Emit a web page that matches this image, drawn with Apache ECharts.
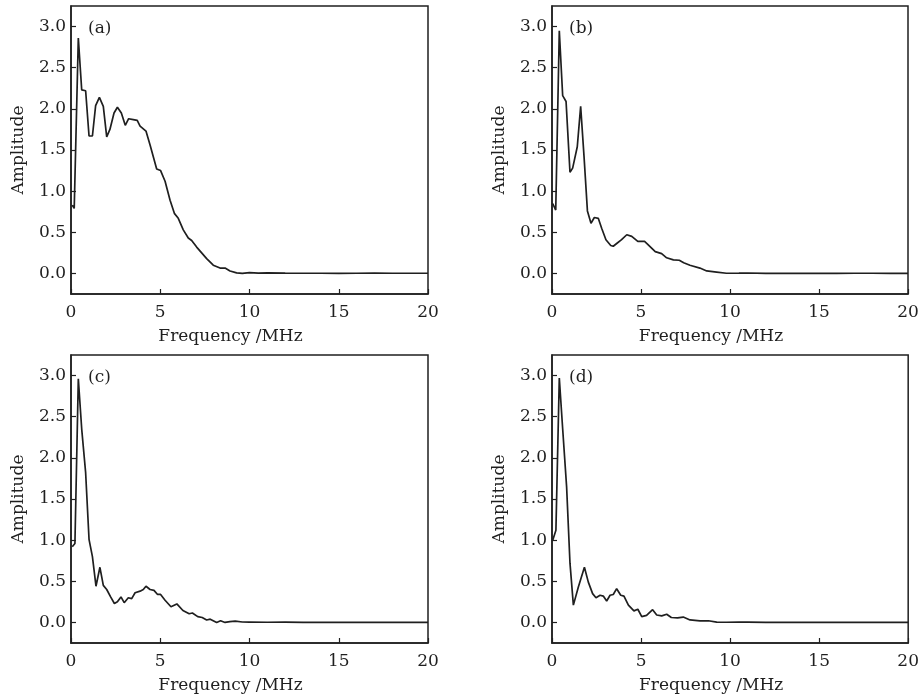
<!DOCTYPE html>
<html>
<head>
<meta charset="utf-8">
<script src="https://cdn.jsdelivr.net/npm/echarts@6/dist/echarts.min.js"></script>
<style>html,body{margin:0;padding:0;background:#fff}#chart{width:922px;height:697px}</style>
</head>
<body>
<div id="chart"></div>
<script>
// ---- data (frequency in MHz, amplitude) ----
const panelLabels = ['(a)', '(b)', '(c)', '(d)'];
const xTicks = [0, 5, 10, 15, 20];
const yTicks = [0, 0.5, 1.0, 1.5, 2.0, 2.5, 3.0];

const freqA = [0.07,0.18,0.41,0.6,0.82,1.01,1.2,1.38,1.59,1.81,2.0,2.18,2.41,2.6,2.82,3.04,3.23,3.49,3.71,3.87,4.2,4.43,4.8,5.02,5.27,5.55,5.79,6.01,6.29,6.57,6.76,7.04,7.32,7.6,7.97,8.35,8.63,8.91,9.28,9.6,10.0,10.5,11.0,12.0,13.0,14.0,15.0,16.0,17.0,18.0,19.0,20.0];
const ampA  = [0.83,0.79,2.86,2.23,2.22,1.67,1.67,2.04,2.14,2.03,1.66,1.75,1.95,2.02,1.95,1.80,1.88,1.87,1.86,1.79,1.73,1.56,1.27,1.25,1.12,0.89,0.73,0.67,0.53,0.43,0.40,0.32,0.25,0.18,0.10,0.065,0.065,0.03,0.006,0.0,0.01,0.004,0.006,0.003,0.002,0.002,0.001,0.002,0.003,0.002,0.002,0.002];

const freqB = [0.04,0.21,0.41,0.6,0.79,1.01,1.16,1.42,1.61,1.8,1.99,2.19,2.38,2.6,2.79,3.03,3.3,3.44,3.67,3.91,4.2,4.48,4.82,5.2,5.35,5.8,6.16,6.44,6.82,7.15,7.4,7.75,8.31,8.69,9.25,9.8,10.5,11.0,12.0,13.0,14.0,15.0,16.0,17.0,18.0,19.0,20.0];
const ampB  = [0.85,0.77,2.95,2.16,2.09,1.23,1.28,1.54,2.03,1.42,0.76,0.61,0.68,0.67,0.55,0.41,0.34,0.33,0.37,0.41,0.47,0.45,0.39,0.39,0.36,0.265,0.24,0.19,0.165,0.16,0.13,0.10,0.065,0.03,0.016,0.002,0.003,0.005,0.001,0.001,0.002,0.001,0.001,0.002,0.002,0.001,0.001];

const freqC = [0.07,0.22,0.41,0.6,0.82,1.01,1.2,1.4,1.62,1.81,2.0,2.22,2.43,2.6,2.8,2.98,3.21,3.4,3.59,3.87,4.05,4.2,4.43,4.65,4.85,5.02,5.27,5.6,5.93,6.27,6.62,6.8,7.1,7.35,7.6,7.8,8.16,8.38,8.63,8.9,9.2,9.6,10.0,11.0,12.0,13.0,14.0,15.0,16.0,17.0,18.0,19.0,20.0];
const ampC  = [0.92,0.96,2.96,2.35,1.82,1.01,0.80,0.44,0.67,0.45,0.40,0.31,0.23,0.25,0.31,0.24,0.30,0.29,0.36,0.38,0.40,0.44,0.40,0.39,0.34,0.34,0.27,0.19,0.225,0.145,0.105,0.115,0.07,0.06,0.03,0.04,0.00,0.02,0.0,0.01,0.015,0.005,0.004,0.002,0.004,0.001,0.002,0.001,0.001,0.002,0.001,0.001,0.001];

const freqD = [0.04,0.22,0.41,0.6,0.82,1.01,1.2,1.48,1.82,2.04,2.28,2.47,2.7,2.88,3.07,3.26,3.44,3.63,3.86,4.04,4.29,4.6,4.82,5.04,5.31,5.65,5.88,6.16,6.44,6.7,7.05,7.37,7.75,8.31,8.78,9.25,9.8,10.5,11.0,12.0,13.0,14.0,15.0,16.0,17.0,18.0,19.0,20.0];
const ampD  = [1.0,1.12,2.97,2.35,1.65,0.72,0.21,0.43,0.67,0.49,0.35,0.30,0.33,0.32,0.26,0.33,0.34,0.41,0.33,0.32,0.21,0.14,0.16,0.07,0.085,0.155,0.09,0.08,0.10,0.06,0.055,0.065,0.03,0.02,0.02,0.003,0.002,0.004,0.003,0.001,0.002,0.001,0.001,0.002,0.001,0.002,0.001,0.001];

const freqs = [freqA, freqB, freqC, freqD];
const amps = [ampA, ampB, ampC, ampD];

// ---- layout ----
const grids = [
  {left: 71, top: 6, width: 357, height: 288},
  {left: 552, top: 6, width: 356, height: 288},
  {left: 71, top: 355, width: 357, height: 288},
  {left: 552, top: 355, width: 357, height: 288}
];
const FONT = 'DejaVu Serif';
const FS = 17;
const INK = '#1f1f1f';

const option = {
  backgroundColor: '#fff',
  animation: false,
  title: grids.map((g, i) => ({
    text: panelLabels[i], left: g.left + 12, top: g.top + 9,
    textStyle: {fontFamily: FONT, fontSize: FS, fontWeight: 'normal', color: INK}
  })),
  grid: grids.map(g => Object.assign({show: true, borderColor: INK, borderWidth: 1.5, backgroundColor: 'transparent', containLabel: false}, g)),
  xAxis: grids.map((g, i) => ({
    type: 'value', gridIndex: i, min: 0, max: 20, interval: 5,
    name: 'Frequency /MHz', nameLocation: 'middle', nameGap: 34,
    nameTextStyle: {fontFamily: FONT, fontSize: FS, color: INK, padding: [0, 38, 0, 0]},
    axisLine: {show: true, onZero: false, lineStyle: {color: INK, width: 1.5}},
    axisTick: {show: true, inside: true, length: 5, lineStyle: {color: INK, width: 1.2}, customValues: xTicks},
    axisLabel: {fontFamily: FONT, fontSize: FS, color: INK, margin: 10, customValues: xTicks},
    splitLine: {show: false}
  })),
  yAxis: grids.map((g, i) => ({
    type: 'value', gridIndex: i, min: -0.25, max: 3.25,
    name: 'Amplitude', nameLocation: 'middle', nameGap: 44, nameRotate: 90,
    nameTextStyle: {fontFamily: FONT, fontSize: FS, color: INK},
    axisLine: {show: true, onZero: false, lineStyle: {color: INK, width: 1.5}},
    axisTick: {show: true, inside: true, length: 5, lineStyle: {color: INK, width: 1.2}, customValues: yTicks},
    axisLabel: {fontFamily: FONT, fontSize: FS, color: INK, margin: 5, customValues: yTicks,
      formatter: v => v.toFixed(1)},
    splitLine: {show: false}
  })),
  series: freqs.map((fs, i) => ({
    type: 'line', xAxisIndex: i, yAxisIndex: i,
    data: fs.map((f, k) => [f, amps[i][k]]),
    showSymbol: false, symbol: 'none',
    lineStyle: {color: INK, width: 1.7},
    clip: true
  }))
};

const chart = echarts.init(document.getElementById('chart'), null, {renderer: 'canvas'});
chart.setOption(option);
</script>
</body>
</html>
